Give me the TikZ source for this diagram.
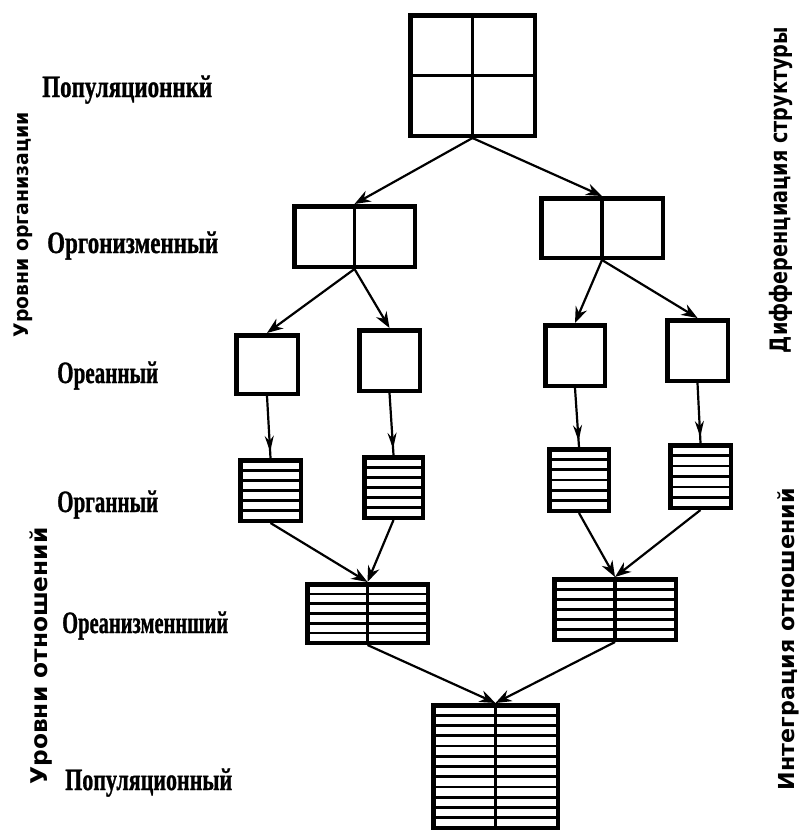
\documentclass[tikz,border=0pt]{standalone}
\usepackage{fontspec}
\setmainfont{Liberation Serif}
\newfontfamily\labfont[FakeBold=1.2]{Liberation Serif Bold}
\newfontfamily\vertfont{DejaVu Sans}
\usetikzlibrary{arrows.meta,decorations.markings,calc}
\tikzset{
  box/.style 2 args={draw, line width=4.5pt, inner sep=0pt, minimum width=#1pt, minimum height=#2pt},
  stripes/.style={path picture={
      \foreach \k in {1,...,#1}{
        \draw[line width=2.8pt]
          ($(path picture bounding box.north west)!{\k/(#1+1)}!(path picture bounding box.south west)$) --
          ($(path picture bounding box.north east)!{\k/(#1+1)}!(path picture bounding box.south east)$);
      }}},
  divider/.style={line width=3.5pt},
  conn/.style={line width=2.2pt, -{Stealth[length=16pt,width=12pt]}},
  midconn/.style={line width=2.2pt, postaction={decorate},
    decoration={markings, mark=at position 0.9 with {\arrow{Stealth[length=16pt,width=9pt]}}}},
  lab/.style={font=\labfont\fontsize{31}{34}\selectfont, inner sep=0pt, anchor=base west},
  vlab/.style={rotate=90, inner sep=0pt, font=\vertfont\bfseries\fontsize{#1}{#1}\selectfont},
}
\begin{document}
\begin{tikzpicture}[x=1pt,y=-1pt]
\useasboundingbox (0,0) rectangle (808,833);
% level 1
\node[box={124.5}{120.5}] (top) at (472.5,75.5) {};
% level 2
\node[box={120.5}{60.5}] (l2a) at (354.5,236.5) {};
\node[box={121.5}{59.5}] (l2b) at (602,228) {};
% level 3
\node[box={61.5}{58.5}] (l3a) at (267,364.5) {};
\node[box={60.5}{60.5}] (l3b) at (389.5,360.5) {};
\node[box={59.5}{60.5}] (l3c) at (575,355.5) {};
\node[box={60.5}{60.5}] (l3d) at (697.5,350.5) {};
% level 4
\node[box={60.5}{60.5}, stripes=5] (l4a) at (270.5,490.5) {};
\node[box={58.5}{60.5}, stripes=5] (l4b) at (393.5,487.5) {};
\node[box={59.5}{61.5}, stripes=5] (l4c) at (579,480) {};
\node[box={60.5}{62.5}, stripes=5] (l4d) at (700.5,476.5) {};
% level 5
\node[box={120.5}{58.5}, stripes=5] (l5a) at (367.5,613.5) {};
\node[box={121.5}{60.5}, stripes=5] (l5b) at (615,609.5) {};
% level 6
\node[box={124.5}{122.5}, stripes=11] (l6) at (495.5,766.5) {};
% dividers
\draw[divider] (top.north) -- (top.south);
\draw[divider] (top.west) -- (top.east);
\draw[divider] (l2a.north) -- (l2a.south);
\draw[divider] (l2b.north) -- (l2b.south);
\draw[divider] (l5a.north) -- (l5a.south);
\draw[divider] (l5b.north) -- (l5b.south);
\draw[divider] (l6.north) -- (l6.south);
% connectors
\draw[conn] (top.south) -- (l2a.north);
\draw[conn] (top.south) -- (l2b.north);
\draw[conn] (l2a.south) -- (l3a.north);
\draw[conn] (l2a.south) -- (l3b.north);
\draw[conn] (l2b.south) -- (l3c.north);
\draw[conn] (l2b.south) -- (l3d.north);
\draw[midconn] (l3a.south) -- (l4a.north);
\draw[midconn] (l3b.south) -- (l4b.north);
\draw[midconn] (l3c.south) -- (l4c.north);
\draw[midconn] (l3d.south) -- (l4d.north);
\draw[conn] (l4a.south) -- (l5a.north);
\draw[conn] (l4b.south) -- (l5a.north);
\draw[conn] (l4c.south) -- (l5b.north);
\draw[conn] (l4d.south) -- (l5b.north);
\draw[conn] (l5a.south) -- (l6.north);
\draw[conn] (l5b.south) -- (l6.north);
% level labels
\node[lab] (t1) at (42,97) {\resizebox{170pt}{\height}{Популяционнкй}};
\node[lab] (t2) at (47,253) {\resizebox{171pt}{\height}{Оргонизменный}};
\node[lab] (t3) at (57,383) {\resizebox{101pt}{\height}{Ореанный}};
\node[lab] (t4) at (57,512) {\resizebox{101pt}{\height}{Органный}};
\node[lab] (t5) at (62,633) {\resizebox{166pt}{\height}{Ореанизменнший}};
\node[lab] (t6) at (65,790) {\resizebox{167pt}{\height}{Популяционный}};
% vertical labels
\node[vlab=20] (v1) at (23,225) {\resizebox{225pt}{\height}{Уровни организации}};
\node[vlab=24] (v2) at (781,190) {\resizebox{326pt}{\height}{Дифференциация структуры}};
\node[vlab=23] (v3) at (41,656) {\resizebox{257pt}{\height}{Уровни отношений}};
\node[vlab=22] (v4) at (788,639) {\resizebox{302pt}{\height}{Интеграция отношений}};
\end{tikzpicture}
\end{document}
